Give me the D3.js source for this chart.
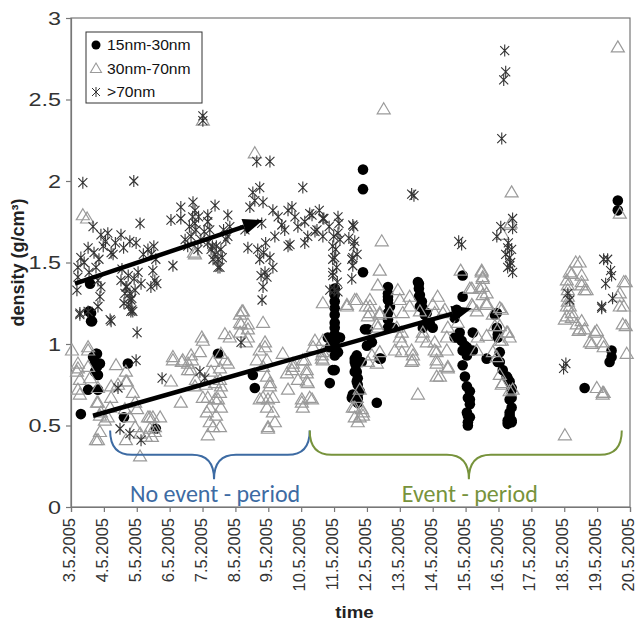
<!DOCTYPE html>
<html>
<head>
<meta charset="utf-8">
<script src="https://cdn.jsdelivr.net/npm/d3@7"></script>
<style>
  body { margin: 0; background: #fff; }
  svg { display: block; font-family: "Liberation Sans", Arial, sans-serif; }
</style>
</head>
<body>
<svg id="chart" width="636" height="623"></svg>
<script>
// day of May 2005 (fractional) and density g/cm3
const small15to30 = [
  [3.61,1.19],[3.61,1.14],[3.76,0.94],[3.73,0.89],[3.88,0.88],[3.82,0.81],[3.52,0.72],[3.82,0.72],[3.30,0.57],
  [4.73,0.88],[4.61,0.55],[5.58,0.48],[7.47,0.94],[8.53,0.81],[8.59,0.73],
  [3.58,1.37],[3.55,1.20],[3.64,1.14],[3.79,0.94],[3.67,0.92],[3.73,0.83],[3.79,0.86],
  [11.88,2.07],[11.88,1.95],[11.88,1.44],[12.64,1.35],[12.64,1.29],[12.70,1.23],[13.58,1.37],[13.58,1.29],[13.61,1.23],
  [11.02,1.34],[11.02,1.30],[11.02,1.26],[11.02,1.22],[11.02,1.18],[11.02,1.13],[11.02,1.10],[11.02,1.06],
  [11.02,1.01],[11.02,0.98],[11.02,0.93],[10.81,1.04],[11.18,1.04],[10.87,0.98],[11.12,0.95],[10.96,0.84],[10.87,0.76],
  [11.63,0.91],[11.66,0.87],[11.69,0.83],[11.72,0.79],[11.72,0.75],[11.78,0.71],[11.72,0.67],[11.57,0.69],
  [11.69,0.93],[11.84,0.89],[11.54,0.67],[11.72,0.64],[12.30,0.64],
  [12.03,1.09],[12.15,1.01],[12.39,0.91],[12.00,0.99],
  [12.64,1.31],[12.64,1.27],[12.64,1.19],[12.64,1.15],[12.64,1.10],[12.79,1.10],
  [13.55,1.38],[13.58,1.34],[13.61,1.30],[13.67,1.26],[13.70,1.22],[13.76,1.18],[13.82,1.13],[13.70,1.10],
  [13.82,1.19],[13.91,1.13],[14.00,1.10],
  [14.91,1.42],[14.91,1.29],[14.73,1.21],[14.67,1.16],[15.22,1.07],[14.76,1.04],[15.04,0.98],
  [14.98,0.99],[15.04,0.93],[14.91,0.87],[14.98,0.80],[15.04,0.74],[15.13,0.71],[15.07,0.67],[15.13,0.63],
  [15.04,0.58],[15.13,0.55],[15.07,0.50],[15.07,0.52],[15.07,0.56],[15.13,0.66],[14.91,0.96],[14.88,1.02],
  [14.82,1.07],[14.67,1.04],[15.22,0.96],[15.64,0.91],
  [15.89,1.18],[15.95,1.10],[15.98,1.04],[16.04,0.95],[16.04,0.89],[16.13,0.84],[16.25,0.80],[16.34,0.77],
  [16.40,0.73],[16.40,0.67],[16.40,0.61],[16.34,0.56],[16.40,0.53],[16.28,0.51],[15.95,1.19],[15.98,1.06],
  [15.98,0.89],[16.28,0.79],[16.40,0.72],[16.34,0.66],[16.34,0.58],[16.28,0.53],[16.40,0.52],
  [18.62,0.73],[19.44,0.96],[19.44,0.92],[19.38,0.89],[19.63,1.88],[19.63,1.82],
  [11.02,0.84],[11.63,0.89],[11.63,0.83],[11.57,0.67],[11.72,0.66],[11.69,0.77],[11.94,1.09],[12.42,0.91]
];

const mid30to70 = [
  [3.36,1.79],[3.49,1.77],[7.01,2.37],[8.59,2.17],[6.74,1.56],[12.51,2.44],[16.40,1.93],[12.45,1.63],
  [19.63,2.82],[19.69,1.80],[16.34,1.73],[6.77,1.55],[8.23,1.20],
  [3.03,0.96],[3.21,0.88],[3.18,0.83],[3.27,0.78],[3.21,0.72],[3.52,0.96],[3.52,0.86],[3.58,0.79],[3.82,0.73],
  [3.82,0.64],[3.91,0.58],[4.03,0.53],[3.88,0.46],[3.76,0.41],[4.12,0.55],[4.22,0.74],[4.22,0.67],[4.67,0.83],
  [4.67,0.77],[4.88,0.70],[4.95,0.64],[4.64,0.60],[4.79,0.55],[4.95,0.49],[5.10,0.45],[5.10,0.31],[4.67,0.41],
  [5.34,0.55],[5.49,0.55],[5.40,0.48],[5.28,0.43],[5.55,0.46],[4.37,0.87],[6.04,0.77],[6.34,0.64],[7.01,1.02],
  [6.65,0.93],[6.10,0.90],[6.40,0.90],[6.56,0.88],[6.65,0.84],[6.80,0.78],[6.77,0.74],[7.10,0.75],[7.26,0.83],
  [7.38,0.76],[7.56,0.94],[7.68,0.90],[7.77,0.88],[7.68,1.06],[7.83,1.04],[8.14,1.18],[8.17,1.12],[8.38,1.09],
  [8.32,1.01],[7.16,0.67],[7.22,0.61],[7.38,0.66],[7.53,0.70],[7.56,0.61],[7.41,0.56],[7.22,0.52],[7.16,0.44],
  [7.53,0.49],[7.56,0.74],
  [3.52,0.98],[3.21,0.85],[3.27,0.69],[3.79,0.64],[3.88,0.56],[3.82,0.41],[4.19,0.61],[4.43,0.75],[4.70,0.77],
  [5.01,0.60],[5.40,0.55],[5.71,0.55],[5.55,0.49],[5.46,0.43],[6.10,0.92],[6.37,0.89],[6.68,0.90],[6.56,0.84],
  [6.98,1.04],[6.92,0.95],[7.32,0.89],[7.53,0.85],[7.53,0.78],[7.01,0.67],[7.13,0.58],[7.32,0.49],[7.47,0.66],
  [8.20,1.20],[8.14,1.13],[8.38,1.12],[8.84,1.13],[8.14,1.07],[8.38,1.04],[8.74,0.96],[8.90,1.01],[8.96,0.90],
  [8.84,0.86],[8.96,0.80],[9.05,0.74],[9.14,0.67],[8.84,0.67],[8.96,0.61],[8.99,0.48],[9.20,0.52],[9.44,0.94],
  [9.57,0.82],[9.75,0.86],[9.90,0.78],[10.05,0.90],[10.17,0.82],[10.33,0.66],[10.02,0.64],[10.20,0.76],
  [10.42,1.02],[10.36,0.98],
  [8.90,0.98],[8.65,0.90],[9.05,0.76],[8.74,0.66],[8.99,0.66],[9.14,0.58],[8.99,0.49],[9.75,0.88],[9.72,0.84],
  [10.11,0.90],[10.17,0.84],[10.17,0.77],[9.60,0.72],[10.02,0.66],[10.05,0.61],[10.26,0.67],[10.63,0.93],[10.66,0.90],
  [11.97,1.23],[12.09,1.19],[12.39,1.19],[12.33,1.10],[11.69,0.67],[11.63,0.61],[11.88,0.58],[11.72,0.52],
  [11.39,1.24],[10.66,1.25],[11.63,1.27],
  [12.85,0.96],[13.06,1.01],[13.40,0.90],[13.36,0.96],[13.55,0.69],[14.12,0.80],[14.06,0.96],[14.12,0.90],[13.06,1.07],
  [12.39,1.45],[12.33,1.36],[11.69,1.27],[11.39,1.23],[12.09,1.23],[12.03,1.17],[12.39,1.18],[12.30,1.12],
  [12.94,1.33],[13.00,1.27],[13.30,1.29],[13.09,1.19],[12.91,1.10],[13.00,1.04],[13.06,0.95],[13.40,0.93],
  [13.36,0.89],[14.00,1.24],[14.15,1.29],[14.37,1.21],[14.06,1.19],[14.06,1.01],[14.12,0.95],[14.12,0.88],
  [14.46,0.85],[14.43,0.96],[14.43,1.04],[14.76,1.13],[15.13,1.34],[15.19,1.24],[15.49,1.45],[15.52,1.41],
  [15.43,1.34],[15.64,1.31],[15.64,1.24],[15.83,1.18],[16.10,1.21],[15.89,1.11],[16.25,1.07],[16.34,1.04],
  [16.10,1.02],[15.64,1.05],[15.83,0.95],[16.04,0.81],[16.13,0.76],[16.34,0.71],[13.61,1.20],[13.70,1.07],
  [13.82,1.01],[13.67,1.04],[11.57,0.61],[11.63,0.55],[11.78,0.55],[11.84,0.60],[11.88,0.56],[11.78,0.72],
  [12.03,0.89],[12.15,0.93],[12.39,0.95],[12.30,0.88],[10.66,0.95],[10.63,0.91],[10.66,1.02],[12.09,1.27],
  [12.70,1.19],[13.30,1.23],
  [14.31,1.19],[14.46,1.10],[14.46,0.86],[14.22,0.80],[15.22,1.23],[15.34,1.20],[15.37,1.04],[15.34,0.96],
  [16.04,1.22],[16.04,1.11],[16.28,1.07],[16.04,1.02],[15.95,0.92],[16.10,0.75],[16.43,0.72],
  [18.08,1.23],[18.02,1.15],[18.23,1.16],[18.38,1.12],[18.47,1.09],[18.53,1.14],[18.93,1.07],[18.78,1.01],
  [19.17,1.01],[19.69,1.23],[19.78,1.12],[19.90,0.94],[18.99,0.73],[19.17,0.70],[19.17,0.69],[18.02,0.44],
  [14.85,1.45],[15.49,1.44],[15.52,1.40],[15.52,1.35],[15.19,1.34],[15.52,1.30],[15.64,1.25],[16.37,1.74],
  [16.13,1.67],[18.35,1.50],[18.17,1.44],[18.53,1.42],[18.08,1.39],[18.11,1.36],[18.53,1.38],[18.53,1.36],
  [18.11,1.33],[18.62,1.33],[18.11,1.26],[18.17,1.23],[19.63,1.29],[19.81,1.38],
  [18.47,1.50],[18.23,1.43],[18.68,1.33],[18.99,1.08],[18.84,1.00],[19.20,0.98],[19.87,1.38],[19.69,1.31],
  [19.81,1.23],[19.87,1.11],[19.20,0.70],[18.44,1.08],[18.62,1.09],[18.08,1.17],[18.23,1.19],[18.11,1.29]
];

const large70 = [
  [3.36,1.99],[4.91,2.00],[5.10,1.74],[3.67,1.72],[3.91,1.67],[4.12,1.68],[4.28,1.55],[4.52,1.67],[4.79,1.63],
  [4.98,1.62],[4.22,1.56],[3.52,1.59],[3.30,1.53],[3.21,1.47],[3.21,1.41],[3.76,1.47],[3.82,1.39],[3.91,1.35],
  [3.88,1.29],[3.82,1.23],[3.27,1.19],[4.52,1.39],[4.67,1.35],[4.79,1.31],[4.95,1.33],[4.82,1.27],[4.88,1.20],
  [5.04,1.44],[5.13,1.37],[5.34,1.58],[5.58,1.52],[5.49,1.45],[5.55,1.39],[5.43,1.35],[6.04,1.76],[6.34,1.77],
  [6.34,1.84],[6.71,1.87],[6.77,1.82],[6.77,1.74],[6.80,1.70],[6.65,1.66],[7.16,1.79],[7.38,1.85],[7.16,1.75],
  [6.10,1.48],[6.47,1.64],[6.95,1.64],[7.16,1.62],[7.26,1.58],[7.38,1.55],[7.47,1.52],[7.53,1.47],[7.56,1.58],
  [7.77,1.79],[7.83,1.72],[7.77,1.66],[7.71,1.64],[8.44,1.84],[8.53,1.93],[8.74,1.96],[8.38,1.59],[8.59,1.88],
  [8.65,2.12],[9.05,2.12],[10.05,1.96],[13.36,1.92],[8.84,1.87],[9.14,1.82],[9.60,1.82],[9.72,1.84],[9.81,1.78],
  [9.41,1.73],[10.11,1.75],[10.26,1.80],[10.48,1.70],[10.66,1.77],[10.66,1.66],[11.12,1.78],[11.12,1.68],
  [11.18,1.64],[11.57,1.73],[11.63,1.63],[10.96,1.60],[11.02,1.53],[10.96,1.44],[11.57,1.53],[11.57,1.48],
  [11.54,1.40],[10.87,1.33],[11.12,1.32],[10.11,1.62],[9.60,1.60],[9.20,1.66],[9.05,1.53],[8.90,1.44],
  [8.84,1.35],[9.14,1.47],[8.68,1.58],
  [16.10,2.26],[16.43,1.77],[16.07,1.72],[16.43,1.71],[15.95,1.66],[14.79,1.63],[16.28,1.59],[16.34,1.53],
  [16.37,1.50],[16.28,1.47],[16.43,1.44],[19.20,1.52],[19.41,1.45],[19.44,1.42],[19.26,1.37],[19.47,1.28],
  [19.14,1.22],[18.11,1.31],[18.17,1.27],[16.19,2.80],[16.22,2.67],[16.16,2.62],[13.43,1.91],[14.88,1.61],
  [10.33,1.79],[10.69,1.77],[11.15,1.74],[11.60,1.72],[11.60,1.60],[10.42,1.69],[10.99,1.66],[19.32,1.52],
  [3.27,1.18],[4.22,1.14],[5.01,1.07],[4.98,0.90],[5.77,0.79],[4.43,0.73],[4.49,0.48],[4.79,0.45],[5.13,0.41],
  [6.92,0.83],[7.07,0.79],[8.17,1.01],[4.82,1.20],[17.98,0.85],[18.05,0.88],[19.14,1.23],
  [10.96,1.52],[11.54,1.52],[10.96,1.42],[11.02,1.33],[16.34,1.48],[3.18,1.33],[3.52,1.20],[4.19,1.15],
  [4.85,1.21],[7.32,1.52],[7.47,1.47],[8.74,1.52],[8.96,1.41],[9.66,1.61],[5.61,1.37],[4.70,1.35],[4.85,1.28],
  [4.64,1.31],[7.01,2.40],[7.01,2.37],[8.81,1.27],[8.29,1.70],
  [3.40,1.50],[3.55,1.44],[3.70,1.56],[3.85,1.52],[3.98,1.60],[4.05,1.63],[4.35,1.62],[4.60,1.59],
  [4.55,1.46],[4.74,1.42],[4.92,1.40],[4.61,1.25],[4.76,1.24],[5.20,1.55],[5.45,1.55],[5.52,1.60],
  [6.55,1.60],[6.60,1.72],[6.70,1.78],[6.86,1.58],[6.88,1.78],[7.05,1.69],[7.22,1.70],[7.30,1.60],
  [7.42,1.60],[7.60,1.53],[7.64,1.70],[8.78,1.42],[8.86,1.56],[8.92,1.62],[8.80,1.74],[9.30,1.78],
  [9.50,1.70],[9.90,1.72],[10.20,1.66],[10.55,1.82],[10.85,1.72],[11.05,1.58],[11.08,1.47],[11.10,1.38],
  [11.45,1.65],[11.70,1.55],[16.22,1.55],[16.30,1.62],[16.40,1.58]
];

const seriesNames = ["15nm-30nm", "30nm-70nm", ">70nm"];
const xTickDays = [3,4,5,6,7,8,9,10,11,12,13,14,15,16,17,18,19,20];
const xTickLabels = ["3.5.2005","4.5.2005","5.5.2005","6.5.2005","7.5.2005","8.5.2005","9.5.2005",
  "10.5.2005","11.5.2005","12.5.2005","13.5.2005","14.5.2005","15.5.2005","16.5.2005","17.5.2005",
  "18.5.2005","19.5.2005","20.5.2005"];
const yTickValues = [0,0.5,1,1.5,2,2.5,3];
const yTickLabels = ["0","0.5","1","1.5","2","2.5","3"];

// trend arrows [from, to] in data units
const trendArrows = [
  [[3.12,1.37],[8.84,1.76]],
  [[3.67,0.56],[15.19,1.22]]
];
// braces: start day, end day, tip day, label
const braces = [
  { from: 4.19, to: 10.26, tip: 7.35, label: "No event - period", color: "#3d6ba3" },
  { from: 10.26, to: 19.75, tip: 15.10, label: "Event - period", color: "#77933c" }
];

const width = 636, height = 623;
const margin = { top: 18, right: 6, bottom: 116, left: 71 };

const svg = d3.select("#chart");
const x = d3.scaleLinear().domain([3, 20]).range([margin.left, width - margin.right]);
const y = d3.scaleLinear().domain([0, 3]).range([height - margin.bottom, margin.top]);

// frame
svg.append("rect")
  .attr("x", margin.left).attr("y", margin.top)
  .attr("width", x(20) - x(3)).attr("height", y(0) - y(3))
  .attr("fill", "none").attr("stroke", "#777").attr("stroke-width", 1.2);

// y axis
const yAxis = svg.append("g")
  .attr("transform", `translate(${margin.left},0)`)
  .call(d3.axisLeft(y).tickValues(yTickValues).tickSize(5).tickPadding(0)
    .tickFormat((d, i) => yTickLabels[i]));
yAxis.select(".domain").attr("stroke", "#777").attr("stroke-width", 1.2);
yAxis.selectAll(".tick line").attr("stroke", "#777").attr("stroke-width", 1.2);
yAxis.selectAll(".tick text")
  .attr("x", 0).attr("dy", "0.36em")
  .attr("transform", "translate(-10,0) scale(1.3,1)")
  .attr("font-size", 18).attr("fill", "#333");

// x axis
const xAxis = svg.append("g")
  .attr("transform", `translate(0,${y(0)})`)
  .call(d3.axisBottom(x).tickValues(xTickDays).tickSize(5)
    .tickFormat((d, i) => xTickLabels[i]));
xAxis.select(".domain").attr("stroke", "#777").attr("stroke-width", 1.2);
xAxis.selectAll(".tick line").attr("stroke", "#777").attr("stroke-width", 1.2);
xAxis.selectAll(".tick text")
  .attr("x", 0).attr("y", 0).attr("dy", "0.34em")
  .attr("text-anchor", "end")
  .attr("transform", "translate(-2,11) rotate(-90)")
  .attr("font-size", 16.5).attr("fill", "#333");

// axis titles
svg.append("text")
  .attr("transform", `translate(24,${(y(0) + y(3)) / 2}) rotate(-90)`)
  .attr("text-anchor", "middle")
  .attr("font-size", 18).attr("font-weight", "bold").attr("fill", "#222")
  .text("density (g/cm³)");
svg.append("text")
  .attr("transform", `translate(${(x(3) + x(20)) / 2 + 4},618) scale(1.1,1)`)
  .attr("text-anchor", "middle")
  .attr("font-size", 17).attr("font-weight", "bold").attr("fill", "#222")
  .text("time");

// marker shapes
const trianglePath = "M0,-6.5L6.5,4.5L-6.5,4.5Z";
const starPath = "M-4.5,-4.5L4.5,4.5M-4.5,4.5L4.5,-4.5M0,-6L0,6";

const plot = svg.append("g");

plot.selectAll(".small").data(small15to30).join("circle")
  .attr("class", "small")
  .attr("cx", d => x(d[0])).attr("cy", d => y(d[1]))
  .attr("r", 5.3).attr("fill", "#000");

plot.selectAll(".mid").data(mid30to70).join("path")
  .attr("class", "mid")
  .attr("transform", d => `translate(${x(d[0])},${y(d[1])})`)
  .attr("d", trianglePath)
  .attr("fill", "none").attr("stroke", "#9a9a9a").attr("stroke-width", 1.2);

plot.selectAll(".large").data(large70).join("path")
  .attr("class", "large")
  .attr("transform", d => `translate(${x(d[0])},${y(d[1])})`)
  .attr("d", starPath)
  .attr("fill", "none").attr("stroke", "#333").attr("stroke-width", 1.1);

// trend arrows
trendArrows.forEach(([a, b]) => {
  const x0 = x(a[0]), y0 = y(a[1]), x1 = x(b[0]), y1 = y(b[1]);
  const ang = Math.atan2(y1 - y0, x1 - x0);
  const headLen = 20, headHalf = 8;
  const bx = x1 - headLen * Math.cos(ang), by = y1 - headLen * Math.sin(ang);
  svg.append("line")
    .attr("x1", x0).attr("y1", y0).attr("x2", bx).attr("y2", by)
    .attr("stroke", "#000").attr("stroke-width", 4.5);
  svg.append("path")
    .attr("d", `M${x1},${y1}L${bx - headHalf * Math.sin(ang)},${by + headHalf * Math.cos(ang)}` +
      `L${bx + headHalf * Math.sin(ang)},${by - headHalf * Math.cos(ang)}Z`)
    .attr("fill", "#000");
});

// braces with period labels
const braceTop = y(0.47), braceMid = y(0.32), braceTip = y(0.17);
braces.forEach(b => {
  const xa = x(b.from), xb = x(b.to), xm = x(b.tip);
  const r = 22;
  const p = d3.path();
  p.moveTo(xa, braceTop);
  p.quadraticCurveTo(xa, braceMid, xa + r, braceMid);
  p.lineTo(xm - r, braceMid);
  p.quadraticCurveTo(xm, braceMid, xm, braceTip);
  p.quadraticCurveTo(xm, braceMid, xm + r, braceMid);
  p.lineTo(xb - r, braceMid);
  p.quadraticCurveTo(xb, braceMid, xb, braceTop);
  svg.append("path").attr("d", p.toString())
    .attr("fill", "none").attr("stroke", b.color).attr("stroke-width", 2);
  svg.append("text")
    .attr("x", xm + 1).attr("y", 502)
    .attr("text-anchor", "middle")
    .attr("font-family", "Carlito, Calibri, Lato, sans-serif")
    .attr("font-size", 24).attr("fill", b.color)
    .text(b.label);
});

// legend
const legend = svg.append("g").attr("transform", "translate(86,32)");
legend.append("rect").attr("width", 116).attr("height", 71)
  .attr("fill", "#fff").attr("stroke", "#333").attr("stroke-width", 1);
const rows = legend.selectAll(".row").data(seriesNames).join("g")
  .attr("transform", (d, i) => `translate(10,${13 + i * 23.5})`);
rows.each(function (d, i) {
  const g = d3.select(this);
  if (i === 0) g.append("circle").attr("r", 4.5).attr("fill", "#000");
  if (i === 1) g.append("path").attr("d", "M0,-5.5L5.5,4L-5.5,4Z")
    .attr("fill", "none").attr("stroke", "#9a9a9a").attr("stroke-width", 1.1);
  if (i === 2) g.append("path").attr("d", "M-4,-4L4,4M-4,4L4,-4M0,-5L0,5")
    .attr("fill", "none").attr("stroke", "#333").attr("stroke-width", 1);
  g.append("text").attr("transform", "translate(11,5) scale(1.12,1)")
    .attr("font-size", 14).attr("fill", "#111").text(d);
});
</script>
</body>
</html>
